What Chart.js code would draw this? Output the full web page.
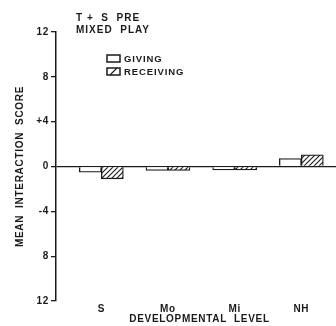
<!DOCTYPE html>
<html>
<head>
<meta charset="utf-8">
<script src="https://cdn.jsdelivr.net/npm/chart.js@4.4.0/dist/chart.umd.min.js"></script>
<style>
html,body{margin:0;padding:0;background:#fff;}
#wrap{width:336px;height:326px;position:relative;}
</style>
</head>
<body>
<div id="wrap"><canvas id="c" width="336" height="326"></canvas></div>
<script>
// ---- data ----
const categories = ['S', 'Mo', 'Mi', 'NH'];
const categoryPositions = [1, 2, 3, 4];
const givingValues = [-0.5, -0.35, -0.3, 0.7];
const receivingValues = [-1.1, -0.35, -0.3, 1.05];
const yTickValues = [12, 8, 4, 0, -4, -8, -12];
const yTickLabels = ['12', '8', '+4', '0', '-4', '8', '12'];
const titleLines = ['T +  S  PRE', 'MIXED  PLAY'];
const seriesNames = ['GIVING', 'RECEIVING'];

const INK = '#1a1a1a';
const FONT = '"Liberation Sans", Arial, sans-serif';
const SPACING = '0.7px';

function makeHatch() {
  const p = document.createElement('canvas');
  p.width = 5; p.height = 5;
  const g = p.getContext('2d');
  g.fillStyle = '#fff';
  g.fillRect(0, 0, 5, 5);
  g.strokeStyle = INK;
  g.lineWidth = 1.1;
  g.beginPath();
  g.moveTo(-1, 6); g.lineTo(6, -1);
  g.moveTo(-1, 1); g.lineTo(1, -1);
  g.moveTo(4, 6); g.lineTo(6, 4);
  g.stroke();
  return g.createPattern(p, 'repeat');
}
const hatch = makeHatch();

const toPoints = vals => vals.map((v, i) => ({ x: categoryPositions[i], y: v }));

const spacingPlugin = {
  id: 'spacing',
  beforeLayout(chart) { chart.ctx.letterSpacing = SPACING; },
  beforeDraw(chart) { chart.ctx.letterSpacing = SPACING; }
};

const overlay = {
  id: 'overlay',
  afterDraw(chart) {
    const ctx = chart.ctx;
    ctx.save();
    ctx.letterSpacing = '1px';
    ctx.fillStyle = INK;
    ctx.font = 'bold 10px ' + FONT;
    ctx.textBaseline = 'middle';
    ctx.textAlign = 'left';
    ctx.fillText(titleLines[0], 76, 18.5);
    ctx.fillText(titleLines[1], 76, 30.5);
    // legend
    const items = [
      { name: seriesNames[0], fill: '#fff', y: 58.5 },
      { name: seriesNames[1], fill: 'hatch', y: 71.5 }
    ];
    ctx.font = 'bold 9.5px ' + FONT;
    ctx.letterSpacing = '0.9px';
    items.forEach(it => {
      const bx = 107, by = it.y - 3.5, bw = 13, bh = 7;
      ctx.fillStyle = '#fff';
      ctx.fillRect(bx, by, bw, bh);
      if (it.fill === 'hatch') {
        ctx.strokeStyle = INK;
        ctx.lineWidth = 1.1;
        ctx.beginPath();
        ctx.moveTo(bx + 3, by + bh); ctx.lineTo(bx + 10, by);
        ctx.stroke();
      }
      ctx.strokeStyle = INK;
      ctx.lineWidth = 1.5;
      ctx.strokeRect(bx, by, bw, bh);
      ctx.fillStyle = INK;
      ctx.fillText(it.name, 124, it.y + 0.5);
    });
    ctx.restore();
  }
};

new Chart(document.getElementById('c'), {
  type: 'bar',
  data: {
    datasets: [
      { label: seriesNames[0], data: toPoints(givingValues), backgroundColor: '#fff', borderColor: INK, borderWidth: 1.3, barThickness: 22 },
      { label: seriesNames[1], data: toPoints(receivingValues), backgroundColor: hatch, borderColor: INK, borderWidth: 1.3, barThickness: 22 }
    ]
  },
  options: {
    responsive: false,
    animation: false,
    devicePixelRatio: 1,
    layout: { padding: { top: 32, right: 0, left: 0, bottom: 0 } },
    plugins: { legend: { display: false }, tooltip: { enabled: false }, title: { display: false } },
    scales: {
      x: {
        type: 'linear',
        min: 0.32,
        max: 4.52,
        offset: false,
        grid: { display: false, drawTicks: false, tickLength: 0 },
        border: { display: false },
        afterBuildTicks(scale) { scale.ticks = categoryPositions.map(v => ({ value: v })); },
        afterFit(scale) { scale.height = 25; },
        ticks: {
          autoSkip: false,
          maxRotation: 0,
          padding: 2,
          color: INK,
          font: { family: FONT, size: 10, weight: 'bold' },
          callback: (v) => categories[categoryPositions.indexOf(v)]
        },
        title: {
          display: true,
          text: '  DEVELOPMENTAL  LEVEL',
          color: INK,
          font: { family: FONT, size: 10, weight: 'bold' },
          padding: { top: 0, bottom: 1 }
        }
      },
      y: {
        min: -12,
        max: 12,
        afterBuildTicks(scale) { scale.ticks = yTickValues.map(v => ({ value: v })); },
        afterFit(scale) { scale.width = 56; },
        grid: {
          drawOnChartArea: true,
          color: c => (c.tick && c.tick.value === 0) ? INK : 'rgba(0,0,0,0)',
          lineWidth: 1.3,
          tickColor: INK,
          tickLength: 5
        },
        border: { display: true, color: INK, width: 1.5 },
        ticks: {
          padding: 2,
          color: INK,
          font: { family: FONT, size: 10, weight: 'bold' },
          callback: (v) => yTickLabels[yTickValues.indexOf(v)]
        },
        title: {
          display: true,
          text: 'MEAN  INTERACTION  SCORE',
          color: INK,
          font: { family: FONT, size: 10, weight: 'bold' },
          padding: { top: 14, bottom: 0 }
        }
      }
    }
  },
  plugins: [spacingPlugin, overlay]
});
</script>
</body>
</html>
